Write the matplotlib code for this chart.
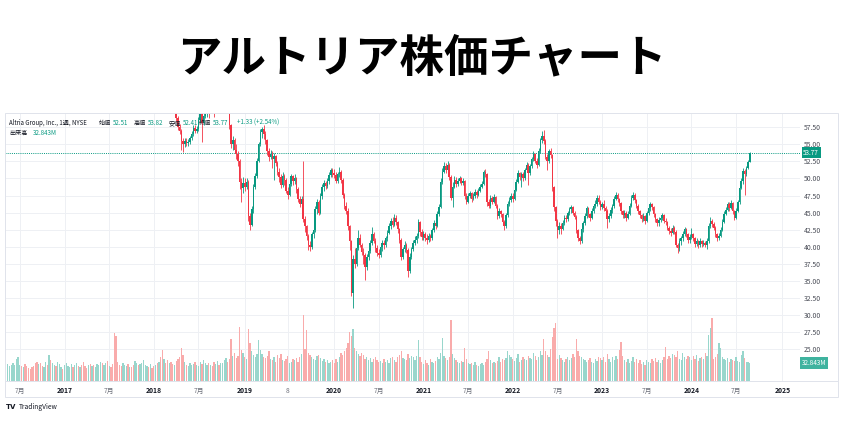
import numpy as np
import pandas as pd
import matplotlib
matplotlib.use('Agg')
import matplotlib.pyplot as plt
import matplotlib.dates as mdates
from matplotlib.patches import Rectangle
from matplotlib.lines import Line2D

plt.rcParams['font.family'] = ['Noto Sans CJK JP', 'DejaVu Sans']

# weekly candles, first week starts 2016-05-16
first_week = '2016-05-16'
first_open = 62.9

close = [
    # 2016
    63.5, 63.8, 63.9, 64.5, 65.0, 66.2, 68.9, 69.5, 68.4, 68.5, 67.7, 67.2, 67.0, 66.4, 66.0, 65.6, 63.5,
    62.8, 63.9, 63.2, 62.6, 63.0, 64.4, 63.3, 63.6, 61.0, 61.5, 63.0, 62.8, 64.9, 66.5, 68.0, 67.6,
    # 2017
    69.0, 70.4, 70.5, 71.2, 71.3, 70.8, 72.5, 74.0, 73.0, 74.4, 74.0, 72.8, 71.6, 71.4, 71.8, 71.5, 71.7,
    71.1, 72.0, 73.2, 74.7, 75.0, 74.3, 74.9, 75.4, 75.0, 75.4, 74.4, 73.3, 66.3, 65.0, 64.0, 63.4, 62.0,
    62.6, 62.9, 63.6, 63.5, 64.6, 64.2, 63.5, 64.2, 65.0, 64.5, 67.0, 67.7, 68.5, 70.5, 71.6, 71.3, 72.0, 71.4,
    # 2018
    71.0, 71.6, 71.4, 72.5, 69.5, 64.5, 66.0, 65.5, 63.0, 63.5, 62.0, 61.2, 62.3, 58.8, 57.6, 57.0, 55.5,
    55.0, 55.5, 55.2, 55.4, 55.9, 56.5, 57.4, 57.0, 57.3, 58.6, 59.5, 58.2, 59.2, 59.8, 60.8, 60.2, 61.0,
    60.6, 59.9, 61.0, 62.0, 61.2, 62.5, 63.6, 64.5, 65.0, 63.0, 57.8, 55.0, 55.6, 54.2, 53.6, 52.6, 49.5, 48.6,
    # 2019
    49.3, 48.8, 49.5, 44.5, 43.2, 45.5, 48.8, 50.3, 52.6, 55.0, 56.8, 57.2, 56.5, 55.7, 54.0, 53.2, 53.6,
    52.8, 53.3, 52.3, 51.0, 50.2, 49.0, 50.3, 49.8, 48.2, 47.6, 49.2, 50.3, 49.6, 50.1, 48.4, 47.0, 46.3,
    47.0, 44.0, 43.0, 41.5, 40.2, 40.0, 41.8, 42.4, 45.5, 46.6, 45.0, 47.5, 48.8, 49.3, 48.9, 49.6, 50.5, 51.2,
    # 2020
    50.8, 50.5, 49.6, 50.6, 51.0, 49.8, 47.6, 46.0, 45.3, 43.0, 40.8, 33.2, 38.2, 37.5, 39.8, 41.3, 40.3,
    39.2, 38.8, 37.0, 38.5, 39.4, 40.5, 41.8, 40.9, 39.8, 39.0, 38.8, 39.9, 40.5, 40.2, 41.2, 42.0, 43.0,
    43.8, 43.2, 44.2, 43.6, 42.6, 41.0, 38.5, 39.6, 40.3, 39.5, 36.4, 38.5, 39.6, 40.5, 41.0, 41.5, 43.6, 42.2,
    # 2021
    41.4, 41.9, 41.3, 41.0, 41.6, 41.2, 42.5, 43.5, 43.0, 44.8, 45.8, 49.5, 51.0, 51.8, 51.2, 52.0, 50.2,
    47.2, 48.8, 49.8, 49.2, 49.6, 50.0, 49.4, 49.7, 47.4, 46.6, 47.5, 47.9, 47.0, 47.4, 48.0, 47.6, 48.2,
    48.8, 49.2, 51.0, 50.6, 46.5, 45.9, 47.2, 46.6, 47.3, 46.0, 44.5, 45.2, 44.8, 43.6, 43.0, 44.6, 46.3, 46.9,
    # 2022
    47.4, 47.0, 48.3, 49.5, 50.8, 50.2, 50.6, 50.0, 51.2, 52.0, 50.8, 51.8, 52.8, 53.6, 52.6, 52.0, 54.0,
    55.6, 56.3, 55.5, 53.2, 52.5, 54.0, 53.4, 48.7, 45.8, 43.8, 42.4, 43.0, 42.6, 43.5, 44.2, 44.0, 44.9,
    45.5, 45.8, 45.0, 44.4, 42.4, 41.2, 40.8, 42.6, 43.4, 44.5, 45.6, 44.8, 44.2, 45.2, 45.9, 46.2, 47.2, 46.6,
    # 2023
    45.8, 46.2, 45.7, 45.3, 44.0, 44.5, 45.4, 45.9, 47.0, 47.6, 47.0, 46.4, 45.2, 44.6, 45.0, 44.2, 44.8,
    46.0, 47.2, 47.6, 46.8, 46.0, 45.2, 44.6, 44.0, 44.5, 43.7, 44.9, 45.6, 46.2, 45.8, 44.8, 44.0, 43.4,
    43.9, 44.2, 44.6, 43.8, 43.6, 42.8, 42.3, 42.0, 42.8, 42.2, 40.2, 39.8, 40.8, 41.2, 41.9, 42.6, 41.8, 41.0,
    # 2024
    41.4, 41.9, 41.2, 40.4, 40.8, 40.2, 40.9, 40.4, 40.6, 40.3, 40.8, 43.0, 43.8, 43.3, 42.8, 41.8, 41.2,
    41.6, 42.5, 43.6, 44.8, 45.4, 46.2, 45.7, 46.4, 45.2, 44.2, 45.3, 46.5, 48.6, 49.6, 51.1, 50.6, 51.6,
    52.44, 53.77,
]

high = [
    # 2016
    64.2, 64.5, 64.6, 65.0, 65.6, 66.8, 69.3, 70.2, 69.8, 69.2, 68.9, 68.2, 67.8, 67.4, 66.9, 66.5, 65.9,
    64.0, 64.4, 64.3, 63.5, 63.6, 64.9, 64.6, 64.2, 63.9, 62.2, 63.5, 63.6, 65.4, 67.0, 68.5, 68.4,
    # 2017
    69.5, 70.9, 71.1, 71.7, 71.9, 71.8, 73.0, 74.5, 74.3, 74.9, 74.8, 74.3, 73.1, 72.1, 72.3, 72.2, 72.2,
    72.0, 72.5, 73.7, 75.2, 75.6, 75.3, 75.4, 76.0, 75.8, 76.2, 75.7, 74.8, 73.6, 66.8, 65.4, 64.5, 63.8,
    63.2, 63.5, 64.1, 64.2, 65.1, 65.0, 64.5, 64.7, 65.6, 65.4, 67.5, 68.2, 69.0, 71.0, 72.1, 72.0, 72.5, 72.3,
    # 2018
    71.8, 72.1, 72.0, 73.2, 72.9, 69.8, 66.5, 66.3, 65.8, 64.1, 63.8, 62.4, 62.8, 62.6, 59.2, 58.0, 57.3,
    55.9, 56.0, 55.9, 55.8, 56.3, 56.9, 57.8, 57.8, 57.7, 59.0, 60.5, 59.8, 59.6, 60.3, 61.3, 61.0, 61.5,
    61.4, 60.9, 61.4, 62.5, 62.3, 63.0, 64.1, 65.0, 66.0, 65.3, 63.5, 58.0, 56.2, 56.0, 55.0, 54.0, 52.8, 50.0,
    # 2019
    50.2, 50.0, 50.0, 49.8, 45.0, 46.0, 49.2, 50.8, 53.0, 55.3, 57.3, 57.6, 57.8, 57.0, 55.8, 54.5, 54.2,
    54.0, 53.8, 53.5, 52.6, 51.5, 50.6, 50.9, 50.6, 50.0, 48.8, 49.5, 50.6, 50.5, 50.6, 50.2, 48.8, 47.5,
    47.4, 52.6, 44.5, 43.2, 41.8, 40.8, 42.2, 42.9, 46.0, 47.0, 46.9, 47.8, 49.2, 49.8, 49.7, 50.0, 50.9, 51.6,
    # 2020
    51.5, 51.4, 51.0, 51.0, 51.7, 51.2, 50.0, 47.8, 46.5, 45.6, 43.2, 41.0, 38.8, 39.8, 40.3, 42.4, 41.8,
    40.6, 39.8, 39.0, 38.9, 39.8, 41.0, 42.9, 42.2, 41.2, 40.2, 39.6, 40.2, 41.0, 41.0, 41.6, 42.5, 43.4,
    44.2, 44.4, 44.8, 44.6, 43.8, 42.8, 41.2, 40.0, 40.8, 40.6, 39.8, 39.0, 40.0, 41.0, 41.5, 42.0, 44.0, 43.8,
    # 2021
    42.6, 42.3, 42.2, 41.8, 42.0, 41.9, 42.8, 43.9, 44.0, 45.2, 46.2, 50.0, 51.6, 52.4, 52.2, 52.6, 52.3,
    50.5, 49.5, 50.4, 50.2, 50.0, 50.4, 50.2, 50.0, 49.8, 47.8, 47.9, 48.2, 48.0, 47.8, 48.4, 48.3, 48.6,
    49.2, 49.6, 51.3, 51.4, 50.8, 47.0, 47.6, 47.5, 47.7, 47.4, 46.2, 45.6, 45.4, 45.0, 43.9, 45.0, 46.7, 47.3,
    # 2022
    47.8, 47.8, 48.6, 49.9, 51.2, 51.0, 51.0, 50.9, 51.6, 52.4, 52.2, 52.1, 53.2, 54.0, 53.8, 53.0, 54.4,
    56.0, 57.0, 57.1, 55.8, 53.6, 54.3, 54.4, 53.6, 48.9, 46.0, 44.0, 43.6, 43.4, 43.9, 44.6, 44.6, 45.3,
    45.8, 46.1, 45.9, 45.3, 44.6, 42.6, 41.6, 43.0, 43.8, 44.9, 46.0, 45.8, 45.0, 45.6, 46.3, 46.8, 47.6, 47.6,
    # 2023
    46.9, 46.6, 46.8, 46.0, 45.5, 44.9, 45.8, 46.3, 47.4, 48.0, 47.8, 47.2, 46.6, 45.4, 45.4, 45.2, 45.2,
    46.4, 47.6, 48.0, 47.8, 47.0, 46.2, 45.4, 44.8, 44.9, 44.6, 45.3, 46.0, 46.6, 46.4, 46.0, 45.0, 44.2,
    44.3, 44.6, 45.0, 44.8, 44.2, 43.8, 43.0, 42.7, 43.2, 43.0, 42.4, 40.6, 41.2, 41.6, 42.3, 42.9, 42.8, 42.0,
    # 2024
    41.8, 42.7, 42.0, 41.4, 41.2, 41.0, 41.3, 41.0, 41.0, 40.9, 41.2, 43.4, 44.3, 44.0, 43.6, 43.0, 42.0,
    42.0, 42.9, 44.0, 45.2, 45.8, 46.6, 46.5, 46.8, 46.6, 45.4, 45.6, 46.9, 49.0, 50.0, 51.5, 51.4, 51.9,
    52.7, 53.82,
]

low = [
    # 2016
    62.3, 63.0, 63.1, 63.5, 64.0, 64.8, 66.0, 68.5, 67.8, 67.9, 67.2, 66.6, 66.5, 66.0, 65.5, 65.0, 63.0,
    62.2, 62.5, 62.8, 62.1, 62.2, 62.8, 62.9, 62.8, 60.4, 60.6, 61.2, 62.3, 62.6, 64.6, 66.2, 67.1,
    # 2017
    67.4, 68.7, 70.0, 70.2, 70.8, 70.4, 70.6, 72.2, 72.6, 72.8, 73.5, 72.3, 71.1, 70.9, 71.0, 71.0, 71.1,
    70.7, 70.9, 71.8, 73.0, 74.4, 73.9, 74.0, 74.6, 74.6, 74.8, 74.0, 72.9, 62.6, 64.3, 63.3, 62.8, 61.4,
    61.7, 62.2, 62.6, 63.0, 63.2, 63.8, 63.0, 63.2, 63.9, 64.0, 64.3, 66.6, 67.4, 68.2, 70.2, 70.8, 71.0, 71.0,
    # 2018
    70.5, 70.7, 70.9, 71.1, 69.0, 63.9, 64.0, 65.0, 62.5, 62.6, 61.5, 60.6, 60.9, 58.3, 57.1, 56.5, 54.2,
    53.9, 54.6, 54.8, 54.8, 55.1, 55.6, 56.2, 56.6, 56.6, 57.0, 58.3, 55.4, 57.8, 58.9, 59.0, 58.9, 59.8,
    59.6, 59.0, 59.7, 60.7, 60.8, 61.0, 62.2, 63.2, 64.1, 62.5, 57.2, 54.5, 54.2, 53.8, 52.9, 51.8, 48.5, 46.5,
    # 2019
    47.8, 48.2, 48.4, 43.8, 42.4, 43.0, 45.0, 48.5, 50.0, 52.4, 54.8, 56.0, 55.8, 55.0, 53.5, 52.6, 52.8,
    51.5, 49.8, 51.8, 50.5, 49.5, 48.6, 48.8, 49.0, 47.8, 47.0, 47.4, 48.9, 49.0, 49.2, 47.9, 46.5, 45.8,
    45.5, 43.6, 42.2, 41.0, 39.5, 39.3, 39.7, 41.2, 42.2, 44.8, 44.6, 44.8, 47.0, 48.2, 48.5, 48.6, 49.2, 50.2,
    # 2020
    50.2, 50.0, 49.3, 49.4, 50.2, 49.3, 47.2, 45.5, 44.8, 42.5, 39.5, 32.8, 30.95, 36.9, 37.2, 39.5, 39.9,
    38.8, 37.5, 35.1, 36.6, 38.0, 39.0, 40.3, 40.5, 39.2, 38.6, 38.3, 38.5, 39.4, 39.6, 40.0, 40.8, 41.8,
    42.6, 42.9, 43.0, 43.2, 42.0, 40.5, 38.0, 38.2, 39.2, 39.0, 35.6, 36.2, 38.2, 39.3, 40.2, 40.6, 41.3, 41.6,
    # 2021
    41.0, 41.0, 40.9, 40.4, 40.7, 40.8, 41.0, 42.2, 42.6, 42.9, 44.5, 45.6, 49.2, 50.8, 50.8, 51.0, 49.8,
    46.8, 45.8, 48.6, 48.8, 48.9, 49.3, 49.0, 49.1, 47.0, 46.2, 46.4, 47.1, 46.6, 46.8, 47.2, 47.2, 47.4,
    48.0, 48.6, 49.0, 50.2, 46.0, 45.6, 45.7, 46.3, 46.4, 45.6, 44.0, 44.2, 44.4, 43.2, 42.4, 42.8, 44.4, 46.0,
    # 2022
    46.6, 46.6, 46.9, 48.1, 49.3, 49.8, 48.8, 49.6, 49.8, 50.9, 49.0, 50.5, 51.6, 52.5, 52.2, 51.5, 51.8,
    53.8, 55.2, 55.0, 52.8, 51.2, 52.3, 53.0, 48.2, 45.2, 43.0, 41.3, 41.8, 41.9, 42.4, 43.2, 43.6, 43.8,
    44.6, 45.0, 44.6, 44.0, 42.0, 40.8, 40.4, 40.6, 42.2, 43.2, 44.2, 44.4, 43.8, 44.0, 45.0, 45.6, 46.0, 46.2,
    # 2023
    45.4, 45.5, 45.3, 44.9, 42.7, 43.6, 44.2, 45.0, 45.7, 46.8, 46.6, 46.0, 44.8, 44.2, 44.2, 43.8, 44.0,
    44.6, 45.8, 46.9, 46.4, 45.6, 44.8, 44.2, 43.6, 43.7, 43.3, 43.6, 44.7, 45.3, 45.4, 44.4, 43.6, 43.0,
    43.1, 43.6, 43.9, 43.4, 43.2, 42.4, 41.9, 41.6, 41.8, 41.8, 39.9, 39.1, 39.4, 40.3, 40.9, 41.6, 41.4, 40.6,
    # 2024
    40.6, 41.1, 40.8, 40.0, 40.1, 39.8, 40.0, 40.0, 40.1, 39.9, 39.7, 40.5, 42.7, 42.9, 42.4, 41.4, 40.9,
    41.0, 41.4, 42.3, 43.4, 44.6, 45.2, 45.3, 45.5, 44.8, 43.9, 44.0, 45.1, 46.3, 48.4, 49.2, 47.6, 50.4,
    51.4, 52.41,
]

# weekly volume, millions
volume = [
    # 2016
    31, 27, 29, 33, 30, 41, 45, 30, 27, 26, 32, 28, 24, 23, 25, 27, 33, 36, 31, 34, 28, 26, 35, 30, 48,
    38, 33, 29, 27, 36, 31, 26, 22,
    # 2017
    30, 34, 28, 26, 31, 25, 29, 33, 27, 26, 30, 35, 28, 24, 29, 32, 27, 30, 26, 31, 29, 35, 33, 30, 34,
    37, 28, 26, 32, 89, 84, 36, 30, 28, 33, 29, 27, 31, 26, 25, 30, 37, 33, 29, 32, 34, 38, 30, 27, 26, 31, 24,
    # 2018
    28, 30, 33, 36, 44, 57, 40, 34, 38, 33, 35, 31, 30, 37, 41, 45, 61, 48, 36, 30, 28, 33, 29, 31, 35,
    30, 27, 36, 32, 38, 34, 29, 33, 30, 28, 35, 32, 37, 30, 34, 33, 38, 42, 36, 40, 78, 47, 52, 43, 46, 100, 58,
    # 2019
    52, 45, 40, 96, 70, 55, 48, 44, 50, 76, 58, 50, 45, 42, 47, 55, 40, 38, 44, 36, 48, 42, 50, 39, 37,
    41, 46, 34, 36, 40, 38, 43, 36, 45, 50, 122, 60, 94, 52, 48, 44, 40, 38, 46, 49, 42, 37, 40, 35, 38, 33, 36,
    # 2020
    38, 34, 41, 36, 45, 52, 48, 55, 62, 70, 90, 84, 96, 62, 55, 50, 46, 52, 48, 40, 44, 38, 42, 36, 40,
    45, 38, 35, 37, 33, 41, 36, 39, 34, 42, 45, 38, 36, 44, 48, 55, 43, 40, 38, 50, 42, 46, 44, 39, 47, 76, 45,
    # 2021
    36, 32, 38, 34, 30, 41, 35, 33, 37, 44, 40, 52, 80, 46, 42, 39, 45, 112, 50, 42, 38, 35, 33, 37, 36,
    61, 40, 34, 31, 33, 29, 35, 30, 28, 32, 34, 30, 36, 41, 55, 38, 34, 36, 33, 37, 44, 36, 40, 38, 42, 55, 48,
    # 2022
    44, 40, 37, 42, 50, 36, 39, 45, 41, 38, 47, 43, 40, 52, 46, 38, 44, 56, 49, 78, 55, 48, 45, 60, 81,
    98, 107, 40, 48, 42, 38, 36, 41, 44, 39, 43, 50, 45, 78, 55, 47, 44, 41, 39, 36, 38, 42, 35, 33, 40, 37, 45,
    # 2023
    42, 38, 45, 36, 50, 40, 35, 44, 39, 47, 41, 58, 72, 46, 38, 35, 40, 33, 37, 44, 36, 41, 34, 38, 32,
    36, 30, 39, 35, 33, 41, 37, 43, 36, 39, 34, 38, 44, 63, 40, 46, 42, 50, 48, 45, 55, 41, 38, 52, 44, 40, 46,
    # 2024
    44, 39, 46, 41, 48, 37, 42, 45, 40, 52, 47, 85, 98, 116, 40, 45, 50, 70, 62, 44, 40, 38, 42, 36, 41,
    39, 37, 44, 37, 35, 48, 55, 42, 36, 35, 32.843,
]

price_ticks = [25.0, 27.5, 30.0, 32.5, 35.0, 37.5, 40.0, 42.5, 45.0, 47.5, 50.0, 52.5, 55.0, 57.5]
time_tick_dates = ['2016-07-04', '2017-01-02', '2017-07-03', '2018-01-01', '2018-07-02', '2019-01-07',
                   '2019-07-01', '2020-01-06', '2020-07-06', '2021-01-04', '2021-07-05', '2022-01-03',
                   '2022-07-04', '2023-01-02', '2023-07-03', '2024-01-01', '2024-07-01', '2025-01-06']
time_tick_labels = ['7月', '2017', '7月', '2018', '7月', '2019', '8', '2020', '7月', '2021', '7月', '2022',
                    '7月', '2023', '7月', '2024', '7月', '2025']

last_close = 53.77
last_volume = 32.843

UP = '#089981'
DOWN = '#f23645'
UP_VOL = '#98d6cc'
DOWN_VOL = '#f9abab'
GRID = '#eef0f4'
BORDER = '#e0e3eb'

W, H = 844, 422


def fx(px):
    return px / W


def fy(py):
    return 1 - py / H


opens = [first_open] + close[:-1]
o = np.array(opens)
c = np.array(close)
hi = np.array(high)
lo = np.array(low)
vol = np.array(volume)
up = c >= o

dates = pd.date_range(first_week, periods=len(close), freq='7D')
xd = mdates.date2num(dates.to_pydatetime())

fig = plt.figure(figsize=(W / 100, H / 100), dpi=100)
fig.text(0.5, fy(58), 'アルトリア株価チャート', ha='center', va='center',
         fontsize=32, fontweight='bold', color='black')

ax = fig.add_axes([fx(5), fy(381), fx(795), 268 / H])
ax2 = ax.twinx()

# x scale: 2017-01-02 sits at x=64.5 px
base = mdates.date2num(pd.Timestamp('2017-01-02').to_pydatetime())
ppd = (781 - 64) / 2922
ax.set_xlim(base - (64.5 - 5) / ppd, base + (800 - 64.5) / ppd)
ax.set_ylim(20.3, 59.6)
ax2.set_ylim(0, 496)

# volume
ax2.bar(xd, vol, width=5.2, color=np.where(up, UP_VOL, DOWN_VOL), linewidth=0)

# candles
cols = np.where(up, UP, DOWN)
ax.vlines(xd, lo, hi, colors=cols, linewidth=0.6, zorder=3)
body_bottom = np.minimum(o, c)
body_h = np.maximum(np.abs(c - o), 0.1)
ax.bar(xd, body_h, bottom=body_bottom, width=6.4, color=cols, linewidth=0, zorder=4)

ax.axhline(last_close, color=UP, linestyle=(0, (1, 1.2)), linewidth=0.7, zorder=2)

# grid & ticks
tick_x = mdates.date2num(pd.to_datetime(time_tick_dates).to_pydatetime())
ax.set_xticks(tick_x)
ax.set_xticklabels(time_tick_labels)
for lab, txt in zip(ax.get_xticklabels(), time_tick_labels):
    if txt.isdigit() and len(txt) == 4:
        lab.set_fontweight('bold')
        lab.set_color('#131722')
    else:
        lab.set_color('#6a6d78')
ax.yaxis.tick_right()
ax.set_yticks(price_ticks)
ax.set_yticklabels([f'{v:.2f}' for v in price_ticks])
ax.tick_params(axis='x', length=0, pad=4, labelsize=4.9)
ax.tick_params(axis='y', length=0, pad=2.5, labelsize=4.9, labelcolor='#4a4d57')
ax.grid(True, color=GRID, linewidth=0.7)
ax.set_axisbelow(True)
ax2.set_yticks([])
for a in (ax, ax2):
    for s in a.spines.values():
        s.set_visible(False)

# price / volume labels on the scale
ax.text(1.004, last_close, f'{last_close:.2f}', transform=ax.get_yaxis_transform(),
        ha='left', va='center', fontsize=4.6, color='white', zorder=10, clip_on=False,
        bbox=dict(boxstyle='square,pad=0.25', fc=UP, ec='none'))
ax2.text(1.002, last_volume, f'{last_volume:.3f}M', transform=ax2.get_yaxis_transform(),
         ha='left', va='center', fontsize=4.6, color='white', zorder=10, clip_on=False,
         bbox=dict(boxstyle='square,pad=0.3', fc='#3fb39f', ec='none'))

# panel borders
fig.add_artist(Rectangle((fx(5), fy(397)), fx(833), (397 - 113) / H, transform=fig.transFigure,
                         fill=False, ec=BORDER, lw=0.7))
fig.add_artist(Line2D([fx(5), fx(838)], [fy(381), fy(381)], color=BORDER, lw=0.7))

# legend text
fs = 4.4
dark = '#131722'
legend_items = [
    (9, 123, 'Altria Group, Inc., 1週, NYSE', dark),
    (99, 123, '始値', dark), (113, 123, '52.51', UP),
    (134, 123, '高値', dark), (148, 123, '53.82', UP),
    (169, 123, '安値', dark), (183, 123, '52.41', UP),
    (199, 123, '終値', dark), (213, 123, '53.77', UP),
    (237, 123, '+1.33 (+2.54%)', UP),
    (9, 133, '出来高', dark), (33, 133, '32.843M', UP),
]
for px, py, txt, col in legend_items:
    fig.text(fx(px), fy(py), txt, ha='left', va='center', fontsize=fs, color=col, zorder=20)

fig.text(fx(6), fy(407), 'TV', ha='left', va='center', fontsize=5, fontweight='heavy',
         color='#131722', family='DejaVu Sans')
fig.text(fx(19), fy(407), 'TradingView', ha='left', va='center', fontsize=4.8, color='#131722')

fig.savefig('out.png', dpi=100)
